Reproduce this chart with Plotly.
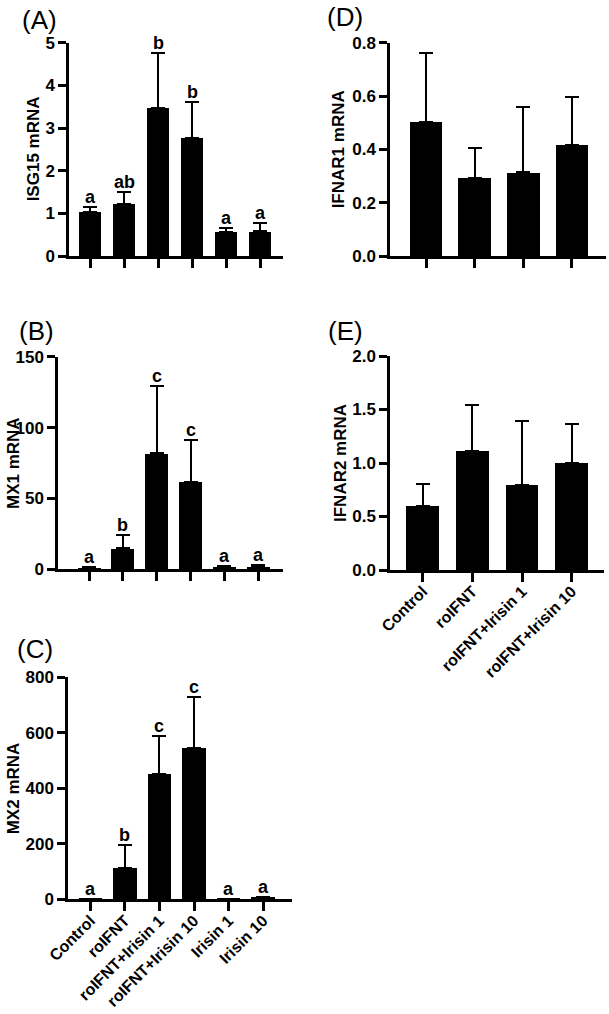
import plotly.graph_objects as go

W, H = 609, 1014

cats6 = ["Control", "roIFNT", "roIFNT+Irisin 1", "roIFNT+Irisin 10", "Irisin 1", "Irisin 10"]
cats4 = ["Control", "roIFNT", "roIFNT+Irisin 1", "roIFNT+Irisin 10"]

isg15_mean = [1.04, 1.22, 3.47, 2.77, 0.57, 0.58]
isg15_err = [0.12, 0.27, 1.28, 0.84, 0.08, 0.19]
isg15_sig = ["a", "ab", "b", "b", "a", "a"]

mx1_mean = [0.8, 14.8, 81.8, 61.8, 1.5, 1.5]
mx1_err = [0.5, 9.4, 47.5, 29.4, 0.8, 1.2]
mx1_sig = ["a", "b", "c", "c", "a", "a"]

mx2_mean = [1, 112, 451, 544, 1, 5]
mx2_err = [1, 84, 137, 184, 1, 3]
mx2_sig = ["a", "b", "c", "c", "a", "a"]

ifnar1_mean = [0.504, 0.294, 0.314, 0.417]
ifnar1_err = [0.258, 0.112, 0.244, 0.179]

ifnar2_mean = [0.60, 1.115, 0.794, 1.0]
ifnar2_err = [0.207, 0.424, 0.596, 0.364]

FONT = "Liberation Sans, Arial, sans-serif"

panels = [
    dict(c=cats6, m=isg15_mean, e=isg15_err, s=isg15_sig, t="ISG15 mRNA", p="(A)",
         x0=69, x1=283, yt=42.7, yb=256, xr=[-0.62, 5.67], yr=[0, 5], dt=1, fmt="d", lab=False,
         bw=0.66, tx=33, px=39, py=20),
    dict(c=cats6, m=mx1_mean, e=mx1_err, s=mx1_sig, t="MX1 mRNA", p="(B)",
         x0=58, x1=283, yt=356.7, yb=569.3, xr=[-0.92, 5.73], yr=[0, 150], dt=50, fmt="d", lab=False,
         bw=0.68, tx=13, px=36, py=331),
    dict(c=cats6, m=mx2_mean, e=mx2_err, s=mx2_sig, t="MX2 mRNA", p="(C)",
         x0=68, x1=291.7, yt=677.3, yb=899.3, xr=[-0.65, 5.83], yr=[0, 800], dt=200, fmt="d", lab=True,
         bw=0.68, tx=13, px=35, py=649),
    dict(c=cats4, m=ifnar1_mean, e=ifnar1_err, s=None, t="IFNAR1 mRNA", p="(D)",
         x0=390, x1=606, yt=42.7, yb=256, xr=[-0.74, 3.70], yr=[0, 0.8], dt=0.2, fmt=".1f", lab=False,
         bw=0.675, tx=338, px=345, py=17),
    dict(c=cats4, m=ifnar2_mean, e=ifnar2_err, s=None, t="IFNAR2 mRNA", p="(E)",
         x0=390, x1=604, yt=356, yb=570, xr=[-0.66, 3.65], yr=[0, 2.0], dt=0.5, fmt=".1f", lab=True,
         bw=0.66, tx=340, px=345, py=331),
]

fig = go.Figure()
annotations = []
layout = {}

for i, P in enumerate(panels, start=1):
    xa = "x" if i == 1 else f"x{i}"
    ya = "y" if i == 1 else f"y{i}"
    xkey = "xaxis" if i == 1 else f"xaxis{i}"
    ykey = "yaxis" if i == 1 else f"yaxis{i}"
    fig.add_trace(go.Bar(
        x=P["c"], y=P["m"], width=P["bw"], marker=dict(color="black", line=dict(width=0)),
        error_y=dict(type="data", array=P["e"], arrayminus=[0] * len(P["e"]), symmetric=False,
                     color="black", thickness=2, width=7),
        xaxis=xa, yaxis=ya, showlegend=False,
    ))
    layout[xkey] = dict(
        domain=[P["x0"] / W, P["x1"] / W], anchor=ya, type="category",
        categoryorder="array", categoryarray=P["c"], range=P["xr"],
        showline=True, linecolor="black", linewidth=2.5, mirror=False,
        ticks="outside", ticklen=9, tickwidth=2.5, tickcolor="black",
        showticklabels=P["lab"], tickangle=-45, ticklabelstandoff=-6,
        tickfont=dict(family=FONT, size=16, color="black", weight="bold"),
        showgrid=False, zeroline=False, fixedrange=True, automargin=False,
    )
    layout[ykey] = dict(
        domain=[1 - P["yb"] / H, 1 - P["yt"] / H], anchor=xa, range=P["yr"],
        dtick=P["dt"], tick0=0, tickformat=P["fmt"],
        showline=True, linecolor="black", linewidth=2.5,
        ticks="outside", ticklen=8, tickwidth=2.5, tickcolor="black",
        tickfont=dict(family=FONT, size=17, color="black", weight="bold"),
        showgrid=False, zeroline=False, fixedrange=True, automargin=False,
    )
    annotations.append(dict(
        text=P["t"], textangle=-90, xref="paper", yref="paper",
        x=P["tx"] / W, y=1 - ((P["yt"] + P["yb"]) / 2) / H, xanchor="center", yanchor="middle",
        showarrow=False, font=dict(family=FONT, size=17, color="black", weight="bold"),
    ))
    annotations.append(dict(
        text=P["p"], xref="paper", yref="paper", x=P["px"] / W, y=1 - P["py"] / H,
        xanchor="center", yanchor="middle", showarrow=False,
        font=dict(family=FONT, size=26, color="black"),
    ))
    if P["s"] is not None:
        for c, m, e, s in zip(P["c"], P["m"], P["e"], P["s"]):
            annotations.append(dict(
                text=s, x=c, y=m + e, xref=xa, yref=ya, xanchor="center", yanchor="bottom",
                showarrow=False, yshift=-2,
                font=dict(family=FONT, size=18, color="black", weight="bold"),
            ))

fig.update_layout(
    width=W, height=H, margin=dict(l=0, r=0, t=0, b=0, autoexpand=False),
    paper_bgcolor="white", plot_bgcolor="white",
    annotations=annotations, bargap=0, **layout,
)

fig.write_html("out.html")
